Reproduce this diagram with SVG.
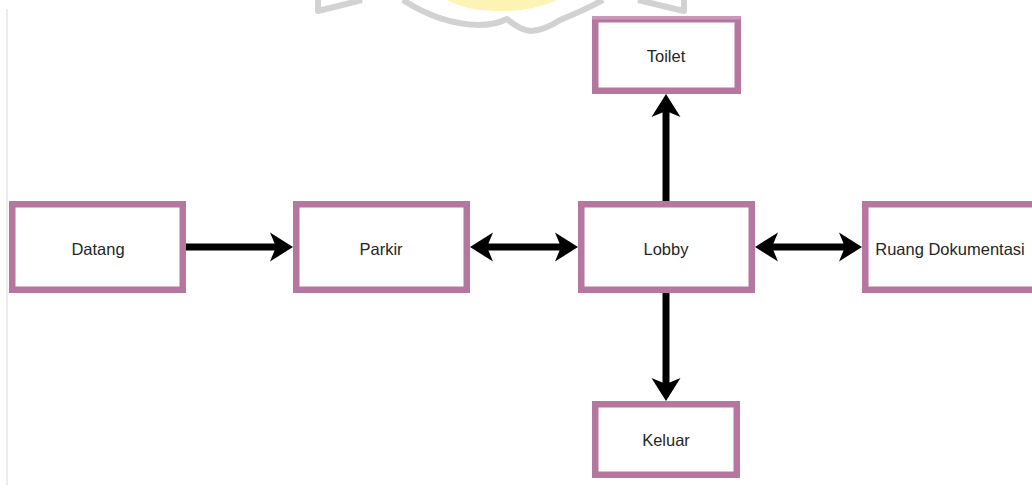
<svg xmlns="http://www.w3.org/2000/svg" width="1032" height="489" viewBox="0 0 1032 489">
  <style>
    .box { fill: #ffffff; stroke: #b5779f; stroke-width: 6.5; }
    .lbl { font-family: "Liberation Sans", Arial, sans-serif; font-size: 16.5px; fill: #262626; text-anchor: middle; }
    .edge { fill: none; stroke: #000000; stroke-width: 7; }
    .mark { fill: none; stroke: #d2d2d2; stroke-width: 6; stroke-linejoin: round; }
  </style>
  <defs>
    <marker id="head" markerUnits="userSpaceOnUse" viewBox="-8 -15 26 30" refX="0" refY="0" markerWidth="26" markerHeight="30" orient="auto-start-reverse" overflow="visible">
      <path d="M16,0 L-7,-14.5 L-1,0 L-7,14.5 Z" fill="#000000"/>
    </marker>
  </defs>

  <rect width="1032" height="489" fill="#ffffff"/>

  <!-- faint page margin line -->
  <line x1="7" y1="9" x2="7" y2="485" stroke="#ececec" stroke-width="2"/>

  <!-- faded logo at the top edge -->
  <g id="logo">
    <path d="M447,0 Q470,12 500,11 Q530,12 557,0 Z" fill="#fdf3b4"/>
    <path class="mark" d="M403,0 Q440,24 478,25 Q495,25 507,19 Q520,30 531,31 Q545,30 560,20 Q585,10 603,0"/>
    <path class="mark" d="M318,0 L318,11 L362,0"/>
    <path class="mark" d="M684,0 L684,11 L638,0"/>
  </g>

  <g id="nodes">
    <g id="datang">
      <rect class="box" x="12.25" y="204.25" width="170.5" height="85.5"/>
      <text class="lbl" x="98" y="254.5">Datang</text>
    </g>
    <g id="parkir">
      <rect class="box" x="296.25" y="204.25" width="170.5" height="85.5"/>
      <text class="lbl" x="381" y="254.5">Parkir</text>
    </g>
    <g id="lobby">
      <rect class="box" x="581.25" y="204.25" width="170.5" height="85.5"/>
      <text class="lbl" x="666" y="254.5">Lobby</text>
    </g>
    <g id="ruang-dokumentasi">
      <rect class="box" x="865.25" y="204.25" width="175" height="85.5"/>
      <text class="lbl" x="950" y="254.5">Ruang Dokumentasi</text>
    </g>
    <g id="toilet">
      <rect class="box" x="595.25" y="19.25" width="142.5" height="71.5"/>
      <rect x="592" y="16" width="149" height="3.5" fill="#c998b9"/>
      <text class="lbl" x="666" y="61.5">Toilet</text>
    </g>
    <g id="keluar">
      <rect class="box" x="595.25" y="404.25" width="141.5" height="70.5"/>
      <text class="lbl" x="666" y="445.5">Keluar</text>
    </g>
  </g>

  <g id="connectors">
    <path class="edge" d="M186,247 L277,247" marker-end="url(#head)"/>
    <path class="edge" d="M486,247 L562,247" marker-start="url(#head)" marker-end="url(#head)"/>
    <path class="edge" d="M771,247 L846,247" marker-start="url(#head)" marker-end="url(#head)"/>
    <path class="edge" d="M666,201 L666,110" marker-end="url(#head)"/>
    <path class="edge" d="M666,293 L666,385" marker-end="url(#head)"/>
  </g>
</svg>
